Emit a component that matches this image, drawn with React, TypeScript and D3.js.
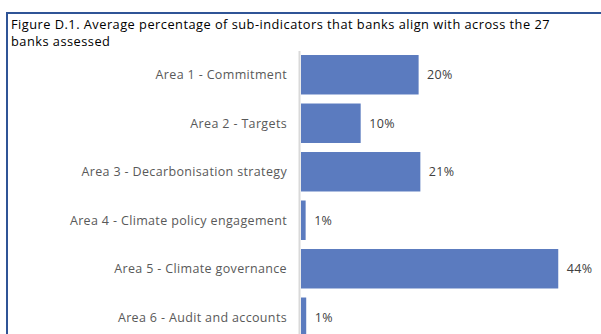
import React from "react";
import * as d3 from "d3";

const categories = [
  "Area 1 - Commitment",
  "Area 2 - Targets",
  "Area 3 - Decarbonisation strategy",
  "Area 4 - Climate policy engagement",
  "Area 5 - Climate governance",
  "Area 6 - Audit and accounts",
];
const values = [20.3, 10.3, 20.6, 0.8, 44.4, 0.9];
const titleLines = [
  "Figure D.1. Average percentage of sub-indicators that banks align with across the 27",
  "banks assessed",
];

const W = 601;
const H = 334;
const FONT = "'Open Sans', 'Noto Sans', sans-serif";

export default function App() {
  const x = d3.scaleLinear().domain([0, 50]).range([301, 590.7]);
  const y = d3
    .scaleBand<string>()
    .domain(categories)
    .range([50.5, 341.5])
    .paddingInner(0.186)
    .paddingOuter(0.093);

  return (
    <svg
      width={W}
      height={H}
      style={{ position: "absolute", left: 0, top: 0, background: "#fff" }}
    >
      <rect x={0} y={0} width={W} height={H} fill="#fff" />
      {/* frame */}
      <line x1={6} x2={W} y1={13} y2={13} stroke="#2f5496" strokeWidth={2} />
      <line x1={7} x2={7} y1={12} y2={H} stroke="#2f5496" strokeWidth={2} />
      {/* title */}
      {titleLines.map((t, i) => (
        <text
          key={i}
          x={11}
          y={28.5 + i * 17}
          fontFamily={FONT}
          fontSize={12.8}
          letterSpacing={0.48}
          fill="#000"
        >
          {t}
        </text>
      ))}
      {/* bars */}
      {categories.map((c, i) => (
        <rect
          key={c}
          x={x(0)}
          y={y(c)!}
          width={x(values[i]) - x(0)}
          height={y.bandwidth()}
          fill="#5b7bbf"
        />
      ))}
      {/* axis line */}
      <line x1={299.5} x2={299.5} y1={51} y2={H} stroke="#d9d9d9" strokeWidth={2} />
      {/* category labels */}
      {categories.map((c) => (
        <text
          key={c}
          x={287}
          y={y(c)! + y.bandwidth() / 2}
          dy="0.35em"
          textAnchor="end"
          fontFamily={FONT}
          fontSize={12.5}
          letterSpacing={0.35}
          fill="#595959"
        >
          {c}
        </text>
      ))}
      {/* value labels */}
      {categories.map((c, i) => (
        <text
          key={c}
          x={x(values[i]) + 8.5}
          y={y(c)! + y.bandwidth() / 2}
          dy="0.35em"
          fontFamily={FONT}
          fontSize={12.5}
          letterSpacing={0.35}
          fill="#404040"
        >
          {d3.format(".0f")(values[i]) + "%"}
        </text>
      ))}
    </svg>
  );
}
